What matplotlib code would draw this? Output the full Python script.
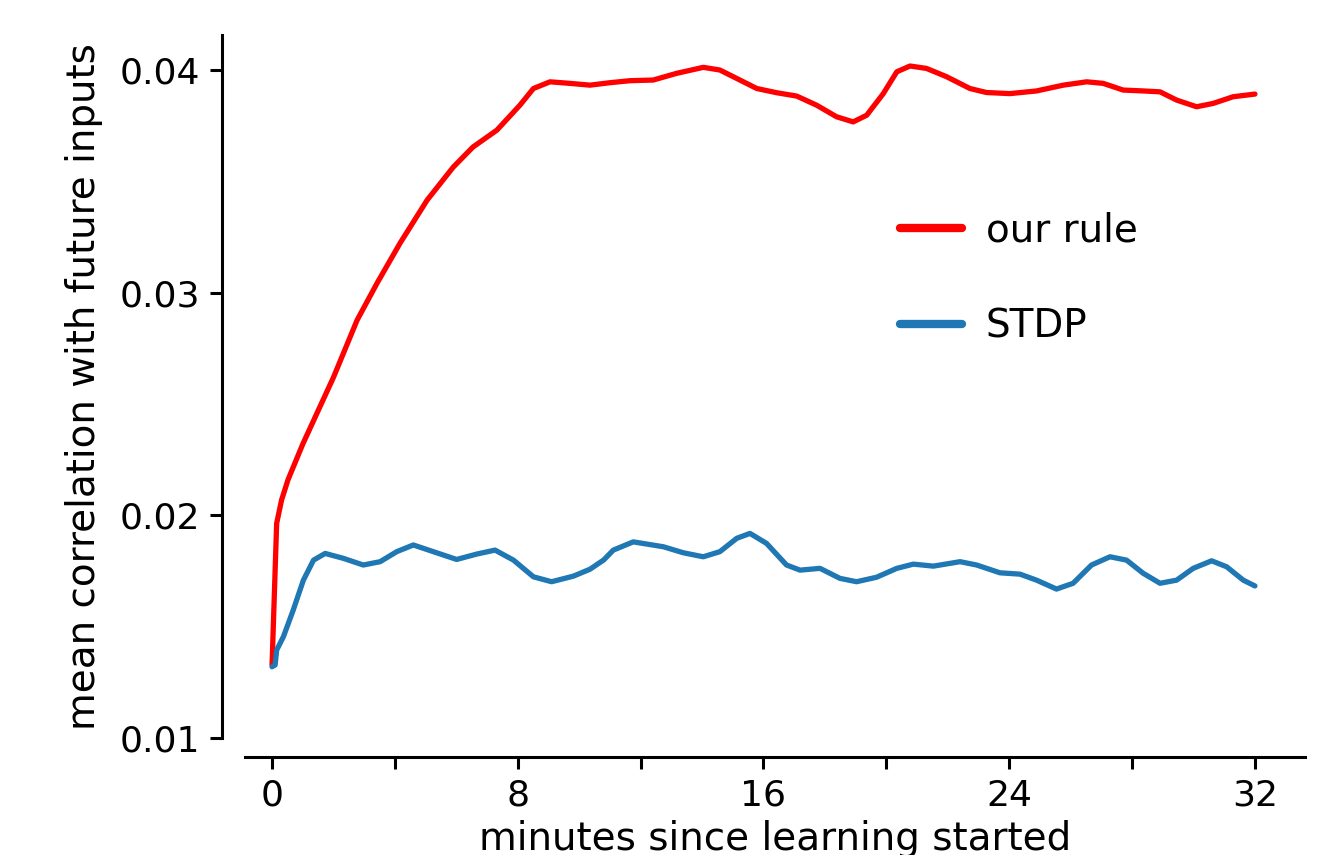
import matplotlib

matplotlib.use("Agg")
import matplotlib.pyplot as plt

# minutes since learning started / mean correlation
t_ours = [0.0, 0.15, 0.31, 0.52, 1.0, 1.5, 2.0, 2.77, 3.42, 4.17, 5.05, 5.9,
          6.54, 7.32, 8.07, 8.51, 9.05, 9.7, 10.35, 11.0, 11.65, 12.41, 13.17,
          14.04, 14.58, 15.13, 15.78, 16.43, 17.08, 17.73, 18.38, 18.92, 19.36,
          19.9, 20.34, 20.77, 21.31, 21.96, 22.72, 23.26, 24.02, 24.89, 25.76,
          26.52, 27.06, 27.71, 28.36, 28.91, 29.45, 30.1, 30.64, 31.29, 32.0]
v_ours = [0.01328, 0.01964, 0.02069, 0.0216, 0.0232, 0.0247, 0.0262, 0.02877,
          0.03043, 0.03223, 0.03416, 0.03564, 0.03654, 0.0373, 0.03842, 0.03917,
          0.03947, 0.0394, 0.03932, 0.03943, 0.03952, 0.03955, 0.03985, 0.04012,
          0.0400, 0.03962, 0.03917, 0.03898, 0.03883, 0.03842, 0.0379, 0.03767,
          0.03797, 0.03894, 0.03992, 0.04018, 0.04007, 0.0397, 0.03917, 0.03899,
          0.03894, 0.03906, 0.03932, 0.03947, 0.0394, 0.0391, 0.03906, 0.03902,
          0.03865, 0.03835, 0.0385, 0.0388, 0.03892]

t_stdp = [0.0, 0.10, 0.15, 0.37, 0.69, 1.02, 1.35, 1.73, 2.32, 2.97, 3.52, 4.06,
          4.6, 5.25, 6.01, 6.66, 7.26, 7.86, 8.51, 9.1, 9.81, 10.35, 10.8, 11.11,
          11.76, 12.74, 13.39, 14.04, 14.58, 15.13, 15.56, 16.1, 16.75, 17.19,
          17.84, 18.49, 19.03, 19.68, 20.34, 20.88, 21.53, 22.4, 22.94, 23.7,
          24.35, 24.89, 25.54, 26.08, 26.68, 27.28, 27.82, 28.36, 28.91, 29.45,
          29.99, 30.59, 31.08, 31.62, 32.0]
v_stdp = [0.01320, 0.01328, 0.01395, 0.01455, 0.01575, 0.01709, 0.01799,
          0.01829, 0.01807, 0.01777, 0.01792, 0.01837, 0.01867, 0.01837, 0.01802,
          0.01826, 0.01844, 0.01799, 0.01724, 0.01702, 0.01727, 0.01758, 0.01800,
          0.01844, 0.01881, 0.01859, 0.01832, 0.01814, 0.01837, 0.01897, 0.01919,
          0.01874, 0.01777, 0.01754, 0.01762, 0.01717, 0.01702, 0.01722, 0.01762,
          0.01781, 0.01772, 0.01792, 0.01777, 0.01742, 0.01736, 0.01709, 0.01669,
          0.01695, 0.01777, 0.01814, 0.01799, 0.0174, 0.01695, 0.01709, 0.01762,
          0.01796, 0.01769, 0.01709, 0.01683]

x_ticks = [0, 4, 8, 12, 16, 20, 24, 28, 32]
x_ticklabels = ["0", "", "8", "", "16", "", "24", "", "32"]
y_ticks = [0.01, 0.02, 0.03, 0.04]
y_ticklabels = ["0.01", "0.02", "0.03", "0.04"]

COLOR_OURS = "#ff0000"
COLOR_STDP = "#1f77b4"

fig = plt.figure(figsize=(6.68, 4.275), dpi=200)
ax = fig.add_axes([0.1834, 0.1368, 0.7934, 0.8222])

ax.plot(t_ours, v_ours, color=COLOR_OURS, lw=1.9, label="our rule",
        solid_capstyle="round", solid_joinstyle="round")
ax.plot(t_stdp, v_stdp, color=COLOR_STDP, lw=1.9, label="STDP",
        solid_capstyle="round", solid_joinstyle="round")

ax.set_xlim(-0.88, 33.63)
ax.set_ylim(0.01, 0.04157)
ax.set_xticks(x_ticks)
ax.set_xticklabels(x_ticklabels)
ax.set_yticks(y_ticks)
ax.set_yticklabels(y_ticklabels)

for side in ("top", "right"):
    ax.spines[side].set_visible(False)
ax.spines["left"].set_position(("outward", 8.3))
ax.spines["bottom"].set_position(("outward", 6.8))
for side in ("left", "bottom"):
    ax.spines[side].set_linewidth(1.1)
ax.tick_params(length=4.3, width=1.1, labelsize=13)

ax.set_xlabel("minutes since learning started", fontsize=14, labelpad=2.5)
ax.set_ylabel("mean correlation with future inputs", fontsize=14, labelpad=6)

leg = ax.legend(loc="center left", bbox_to_anchor=(0.618, 0.654), frameon=False,
                fontsize=14, handlelength=1.6, handletextpad=0.6,
                labelspacing=1.5, borderpad=0, borderaxespad=0)
for line in leg.get_lines():
    line.set_linewidth(3.0)

fig.savefig("out.png", dpi=200)
plt.close(fig)
